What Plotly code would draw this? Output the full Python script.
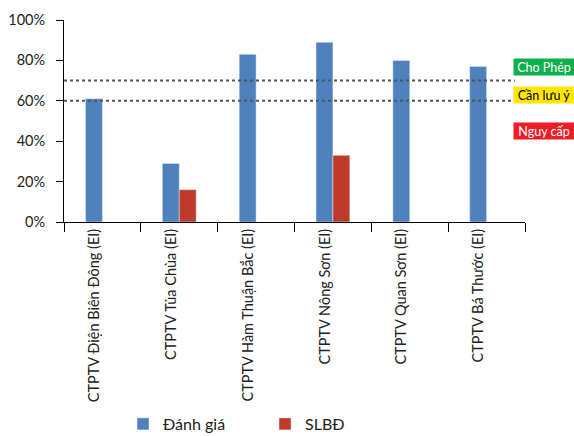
import plotly.graph_objects as go

categories = ["CTPTV Điện Biên Đông (EI)", "CTPTV Tủa Chùa (EI)", "CTPTV Hàm Thuận Bắc (EI)",
              "CTPTV Nông Sơn (EI)", "CTPTV Quan Sơn (EI)", "CTPTV Bá Thước (EI)"]
danh_gia = [0.61, 0.29, 0.83, 0.89, 0.80, 0.77]
slbd = [None, 0.16, None, 0.33, None, None]
threshold_values = [0.70, 0.60]
status_labels = ["Cho Phép", "Cần lưu ý", "Nguy cấp"]
status_levels = [0.765, 0.63, 0.45]
status_colors = ["#0db04b", "#ffe600", "#ee1c25"]
status_text_colors = ["white", "black", "white"]

FONT = "Lato, 'Open Sans', sans-serif"

fig = go.Figure()
fig.add_trace(go.Bar(x=categories, y=danh_gia, name="Đánh giá", marker_color="#4f81bd"))
fig.add_trace(go.Bar(x=categories, y=slbd, name="SLBĐ", marker_color="#be3a2b"))

for v in threshold_values:
    fig.add_shape(type="line", xref="paper", yref="y", x0=0, x1=0.978, y0=v, y1=v,
                  line=dict(color="#555555", width=2, dash="dot"))

for lab, lv, col, tc in zip(status_labels, status_levels, status_colors, status_text_colors):
    fig.add_annotation(xref="paper", yref="paper", x=0.974, y=lv, xanchor="left", yanchor="middle",
                       text=lab, showarrow=False, bgcolor=col, width=58, height=14,
                       font=dict(family=FONT, size=12.5, color=tc), borderpad=1)

fig.update_layout(
    width=574, height=436,
    margin=dict(l=64, r=49, t=20, b=214, autoexpand=False),
    paper_bgcolor="white", plot_bgcolor="white",
    barmode="group", bargap=0.56, bargroupgap=0,
    font=dict(family=FONT, size=14, color="#222222"),
    showlegend=True,
    legend=dict(orientation="h", x=0.128, y=-1.0, xanchor="left", yanchor="middle",
                font=dict(size=16, color="#222222"), entrywidth=97, entrywidthmode="pixels"),
    xaxis=dict(showline=True, linecolor="black", linewidth=1, ticks="outside", ticklen=9,
               tickcolor="black", tickson="boundaries", tickangle=-90, showgrid=False,
               tickfont=dict(size=14.5), automargin=False, ticklabelshift=-8),
    yaxis=dict(range=[0, 1], dtick=0.2, tickformat=".0%", showline=True, linecolor="black",
               linewidth=1, ticks="outside", ticklen=7, tickcolor="black", showgrid=False,
               zeroline=False, tickfont=dict(size=14.5), automargin=False, ticklabelstandoff=8),
)

fig.write_html("out.html")
